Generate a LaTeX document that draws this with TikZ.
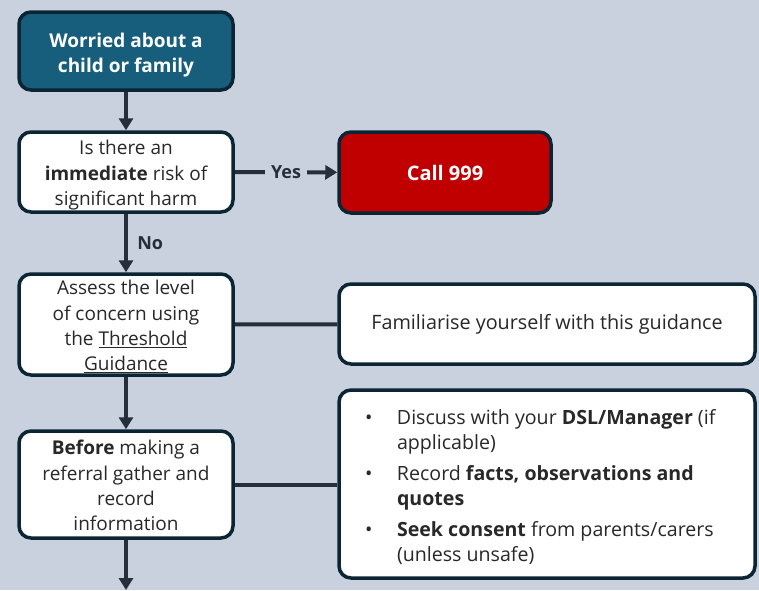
\documentclass[tikz,border=0pt]{standalone}
\usepackage{fontspec}
\setmainfont{Open Sans}
\usetikzlibrary{arrows.meta}
\definecolor{bg}{RGB}{202,209,222}
\definecolor{edge}{RGB}{12,37,53}
\definecolor{arr}{RGB}{38,46,58}
\definecolor{txt}{RGB}{40,40,40}
\definecolor{teal}{RGB}{23,94,125}
\definecolor{red999}{RGB}{192,0,0}
\newcommand\tfix[1]{\rule{0pt}{#1pt}}
\begin{document}
\begin{tikzpicture}[x=1pt,y=-1pt,
  box/.style={draw=edge, line width=3.5pt, rounded corners=12pt, fill=white, text=txt,
    align=center, font=\fontsize{19}{25.3}\selectfont, inner sep=0pt},
  conn/.style={draw=arr, line width=4pt},
  arrow/.style={conn, -{Triangle[width=14pt,length=12pt]}},
  lbl/.style={font=\fontsize{18}{20}\selectfont\bfseries, text=arr}]
\useasboundingbox (0,0) rectangle (759,590);
\fill[bg] (0,0) rectangle (759,590);

\node[box, fill=teal, text=white, font=\fontsize{19}{25}\selectfont\bfseries,
  minimum width=214pt, minimum height=78pt] (b1) at (126,51) {\tfix{22}Worried about a\\child or family};
\node[box, minimum width=214pt, minimum height=80pt] (b2) at (126,172)
  {\tfix{21}Is there an\\\textbf{immediate} risk of\\significant harm};
\node[box, fill=red999, text=white, font=\fontsize{20}{25}\selectfont\bfseries,
  minimum width=212pt, minimum height=81pt] (call) at (445,172.5) {Call 999};
\node[box, minimum width=214pt, minimum height=101pt] (b3) at (126,324.5)
  {\tfix{19}Assess the level\\of concern using\\the \underline{Threshold}\\\underline{Guidance}};
\node[box, minimum width=416pt, minimum height=80pt, font=\fontsize{19.8}{25}\selectfont] (fam) at (547,324)
  {Familiarise yourself with this guidance};
\node[box, minimum width=214pt, minimum height=107pt] (b4) at (126,484.5)
  {\tfix{17}\textbf{Before} making a\\referral gather and\\record\\information};
\node[box, minimum width=416pt, minimum height=188pt, align=left,
  font=\fontsize{19.6}{25.5}\selectfont] (bul) at (547,484)
  {\begin{tabular}{@{}p{36pt}@{}p{336pt}@{}}
   \hspace*{4pt}\textbullet & \tfix{26}Discuss with your \textbf{DSL/Manager} (if\newline applicable)\\[5pt]
   \hspace*{4pt}\textbullet & Record \textbf{facts, observations and}\newline \textbf{quotes}\\[5pt]
   \hspace*{4pt}\textbullet & \textbf{Seek consent} from parents/carers\newline (unless unsafe)
   \end{tabular}};
\coordinate (end) at (126,590);

\draw[arrow] (b1) -- (b2);
\draw[arrow] (b2) -- node[lbl, fill=bg, inner xsep=6pt] {Yes} (call);
\draw[arrow] (b2) -- node[lbl, right=6pt] {No} (b3);
\draw[arrow] (b3) -- (b4);
\draw[conn] (b3) -- (fam);
\draw[conn] (b4.east) -- (b4.east -| bul.west);
\draw[arrow] (b4) -- (end);
\end{tikzpicture}
\end{document}
